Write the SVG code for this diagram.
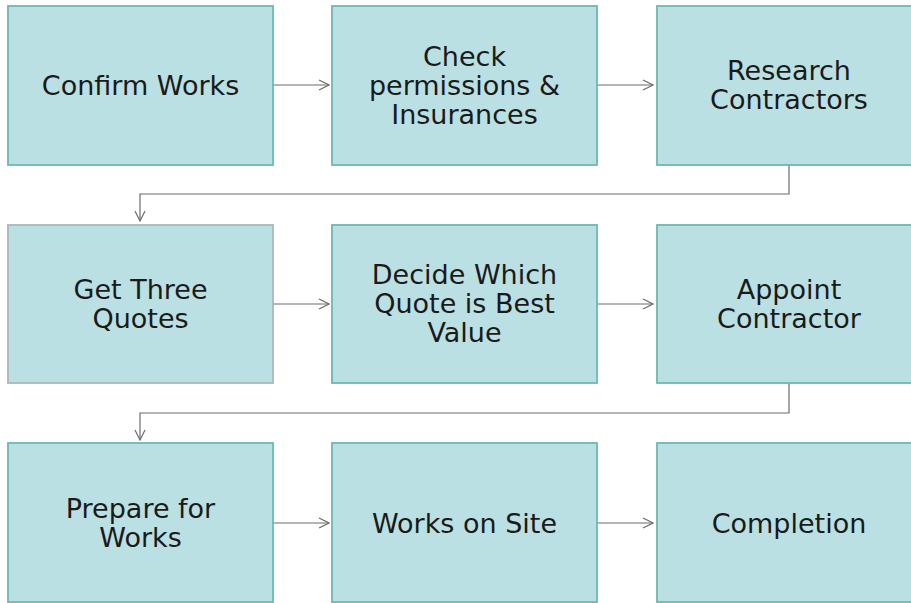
<svg xmlns="http://www.w3.org/2000/svg" width="911" height="603" viewBox="0 0 911 603">
<style>
.box{fill:#bbe0e3;stroke:#6cb9b2;stroke-width:1.8}
.lbl{font-family:"DejaVu Sans",Verdana,sans-serif;font-size:27px;fill:#1a1a1a;text-anchor:middle}
.con{fill:none;stroke:#6d6d6d;stroke-width:1.2}
</style>
<defs>
<marker id="ah" viewBox="0 0 12 12" refX="11" refY="6" markerWidth="12" markerHeight="12" markerUnits="userSpaceOnUse" orient="auto">
<path d="M1,1 L11,6 L1,11" fill="none" stroke="#6d6d6d" stroke-width="1.2"/>
</marker>
</defs>
<rect width="911" height="603" fill="#fff"/>
<g id="connectors">
<path class="con" marker-end="url(#ah)" d="M273,85 H329"/>
<path class="con" marker-end="url(#ah)" d="M597,85 H653"/>
<path class="con" marker-end="url(#ah)" d="M789,165 V194 H140 V221"/>
<path class="con" marker-end="url(#ah)" d="M273,304 H329"/>
<path class="con" marker-end="url(#ah)" d="M597,304 H653"/>
<path class="con" marker-end="url(#ah)" d="M789,383 V413 H140 V440"/>
<path class="con" marker-end="url(#ah)" d="M273,523 H329"/>
<path class="con" marker-end="url(#ah)" d="M597,523 H653"/>
</g>
<g id="n1"><rect class="box" x="8" y="6" width="265" height="159"/><text class="lbl" x="140.5" y="95">Confirm Works</text></g>
<g id="n2"><rect class="box" x="332" y="6" width="265" height="159"/><text class="lbl" x="464.5" y="66">Check</text><text class="lbl" x="464.5" y="95">permissions &amp;</text><text class="lbl" x="464.5" y="124">Insurances</text></g>
<g id="n3"><rect class="box" x="657" y="6" width="265" height="159"/><text class="lbl" x="789" y="80">Research</text><text class="lbl" x="789" y="109">Contractors</text></g>
<g id="n4"><rect class="box" x="8" y="225" width="265" height="158" style="stroke:#a9b9ba"/><text class="lbl" x="140.5" y="299">Get Three</text><text class="lbl" x="140.5" y="328">Quotes</text></g>
<g id="n5"><rect class="box" x="332" y="225" width="265" height="158"/><text class="lbl" x="464.5" y="284">Decide Which</text><text class="lbl" x="464.5" y="313">Quote is Best</text><text class="lbl" x="464.5" y="342">Value</text></g>
<g id="n6"><rect class="box" x="657" y="225" width="265" height="158"/><text class="lbl" x="789" y="299">Appoint</text><text class="lbl" x="789" y="328">Contractor</text></g>
<g id="n7"><rect class="box" x="8" y="443" width="265" height="159"/><text class="lbl" x="140.5" y="518">Prepare for</text><text class="lbl" x="140.5" y="547">Works</text></g>
<g id="n8"><rect class="box" x="332" y="443" width="265" height="159"/><text class="lbl" x="464.5" y="533">Works on Site</text></g>
<g id="n9"><rect class="box" x="657" y="443" width="265" height="159"/><text class="lbl" x="789" y="533">Completion</text></g>
</svg>
